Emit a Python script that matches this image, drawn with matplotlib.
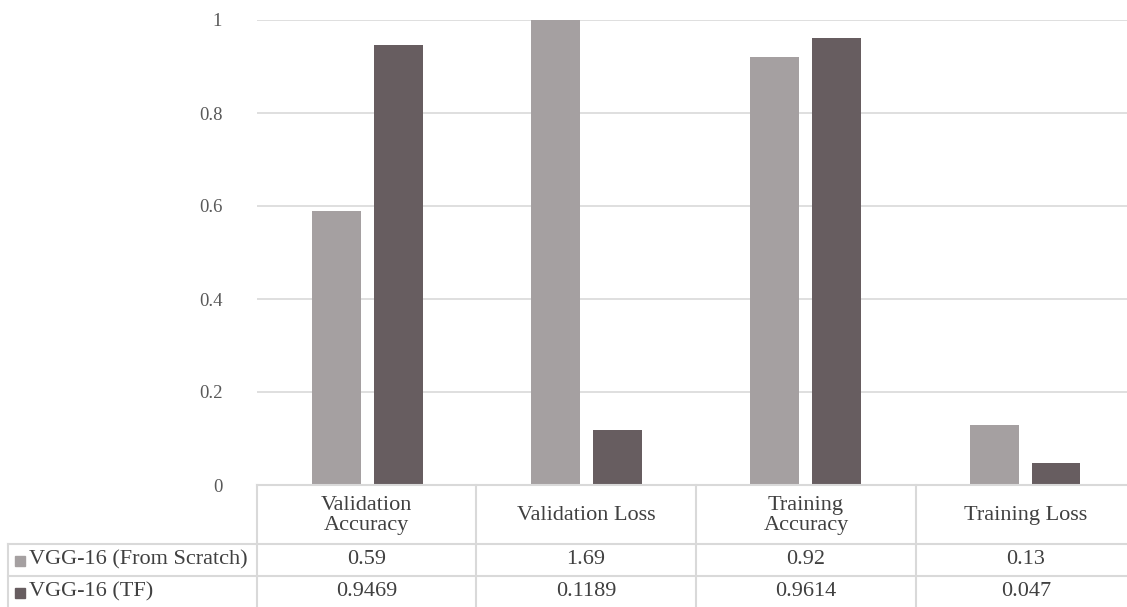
import matplotlib.pyplot as plt
from matplotlib.lines import Line2D
from matplotlib.patches import Rectangle

categories = ['Validation\nAccuracy', 'Validation Loss', 'Training\nAccuracy', 'Training Loss']
series_names = ['VGG-16 (From Scratch)', 'VGG-16 (TF)']
scratch = [0.59, 1.69, 0.92, 0.13]
tf = [0.9469, 0.1189, 0.9614, 0.047]
scratch_labels = ['0.59', '1.69', '0.92', '0.13']
tf_labels = ['0.9469', '0.1189', '0.9614', '0.047']

colors = ['#A5A0A1', '#675D60']
grid_c = '#D9D9D9'
text_c = '#404040'

plt.rcParams['font.family'] = ['Liberation Serif', 'DejaVu Serif']

W, H = 1127, 607
fig = plt.figure(figsize=(W / 100, H / 100), dpi=100)

# plot area in pixels (right edge runs past the image, as in the source)
x0, x1 = 257, 1134
y_zero, y_one = 485, 20
ax = fig.add_axes([x0 / W, (H - y_zero) / H, (x1 - x0) / W, (y_zero - y_one) / H])

xs = range(len(categories))
bw = 0.223
ax.bar([x - 0.138 for x in xs], scratch, bw, color=colors[0], zorder=3)
ax.bar([x + 0.144 for x in xs], tf, bw, color=colors[1], zorder=3)
ax.set_xlim(-0.5, len(categories) - 0.5)
ax.set_ylim(0, 1)
ax.set_yticks([0, 0.2, 0.4, 0.6, 0.8, 1])
ax.set_yticklabels(['0', '0.2', '0.4', '0.6', '0.8', '1'])
ax.yaxis.grid(True, color=grid_c, lw=1.2, zorder=0)
ax.set_xticks([])
ax.tick_params(axis='y', length=0, pad=25, labelsize=13.5, labelcolor='#595959')
for s in ax.spines.values():
    s.set_visible(False)

# data table below the axes
def fx(px):
    return px / W

def fy(py):
    return 1 - py / H

col_edges = [257, 476, 696, 916, 1136]
row_edges = [485, 544, 576, 607]

def hline(y, xa, xb):
    fig.add_artist(Line2D([fx(xa), fx(xb)], [fy(y), fy(y)], color=grid_c, lw=1.5))

def vline(x, ya, yb):
    fig.add_artist(Line2D([fx(x), fx(x)], [fy(ya), fy(yb)], color=grid_c, lw=1.5))

hline(485, 257, 1127)
hline(544, 8, 1127)
hline(576, 8, 1127)
vline(8, 544, 607)
for cx in col_edges[:-1]:
    vline(cx, 485, 607)

fs = 16
for i, cat in enumerate(categories):
    cx = (col_edges[i] + col_edges[i + 1]) / 2
    fig.text(fx(cx), fy((row_edges[0] + row_edges[1]) / 2 + 1), cat, ha='center', va='center',
             fontsize=fs, color=text_c, linespacing=1.1)
    fig.text(fx(cx), fy((row_edges[1] + row_edges[2]) / 2), scratch_labels[i], ha='center',
             va='center', fontsize=fs, color=text_c)
    fig.text(fx(cx), fy((row_edges[2] + row_edges[3]) / 2), tf_labels[i], ha='center',
             va='center', fontsize=fs, color=text_c)

for r, name in enumerate(series_names):
    yc = (row_edges[r + 1] + row_edges[r + 2]) / 2
    fig.add_artist(Rectangle((fx(15), fy(yc + 6)), 10 / W, 10 / H, color=colors[r],
                             transform=fig.transFigure))
    fig.text(fx(29), fy(yc), name, ha='left', va='center', fontsize=fs, color=text_c)

fig.savefig('out.png', dpi=100)
